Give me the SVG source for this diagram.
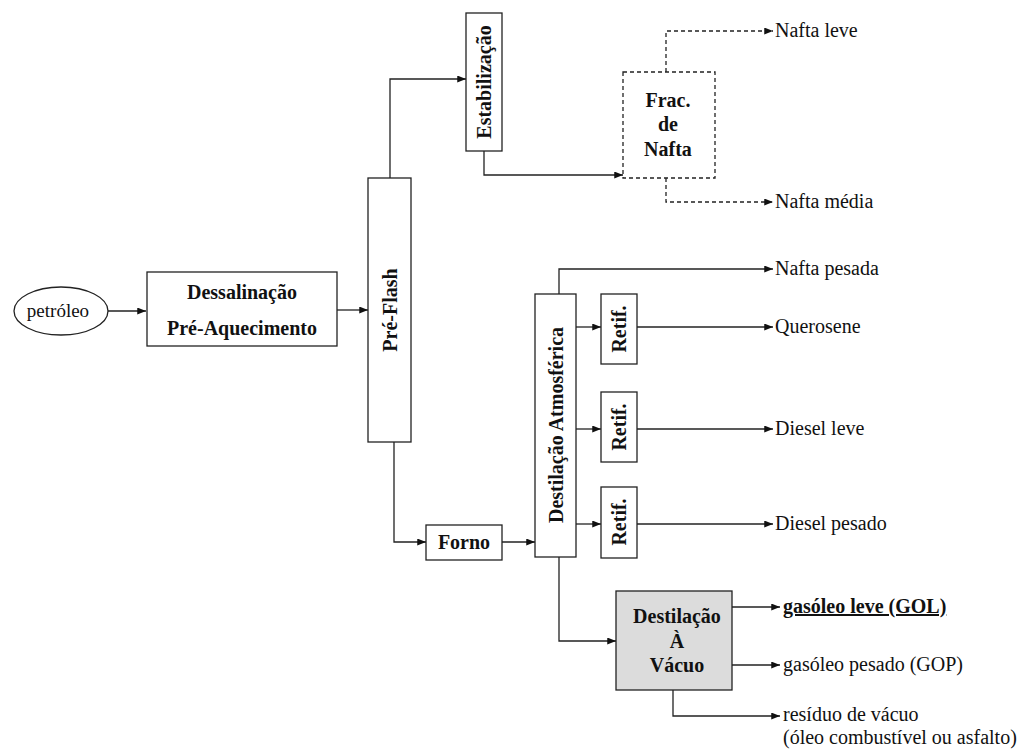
<svg xmlns="http://www.w3.org/2000/svg" width="1021" height="749" viewBox="0 0 1021 749" font-family="'Liberation Serif', 'DejaVu Serif', serif">
<style>
text{font-family:'Liberation Serif','DejaVu Serif',serif;font-size:20px;fill:#111}
.b{font-weight:bold;font-size:20px}
.box{fill:#fff;stroke:#222;stroke-width:1.3}
.dbox{fill:#fff;stroke:#222;stroke-width:1.3;stroke-dasharray:4 3}
.c{fill:none;stroke:#222;stroke-width:1.3;marker-end:url(#ah)}
.d{fill:none;stroke:#222;stroke-width:1.3;stroke-dasharray:4 3;marker-end:url(#ah)}
</style>
<defs>
<marker id="ah" viewBox="0 0 10 8" refX="10" refY="4" markerWidth="9" markerHeight="7" markerUnits="userSpaceOnUse" orient="auto">
<path d="M0,0 L10,4 L0,8 z" fill="#111"/>
</marker>
</defs>
<rect width="1021" height="749" fill="#fff"/>
<g id="connectors">
<path class="c" d="M108,311 H146"/>
<path class="c" d="M337,310 H368"/>
<path class="c" d="M390,178 V79 H466"/>
<path class="c" d="M484,151 V175 H623"/>
<path class="d" d="M666,72 V31 H773"/>
<path class="d" d="M666,178 V202 H773"/>
<path class="c" d="M394,442 V542 H426"/>
<path class="c" d="M502,542 H535"/>
<path class="c" d="M559,294 V269 H773"/>
<path class="c" d="M576,327 H601"/>
<path class="c" d="M576,429 H601"/>
<path class="c" d="M576,524 H601"/>
<path class="c" d="M637,327 H773"/>
<path class="c" d="M637,429 H773"/>
<path class="c" d="M637,524 H773"/>
<path class="c" d="M559,557 V641 H616"/>
<path class="c" d="M732,607 H780"/>
<path class="c" d="M732,665 H780"/>
<path class="c" d="M673,690 V716 H780"/>
</g>
<g id="petroleo">
<ellipse cx="61" cy="311" rx="47" ry="24" class="box"/>
<text x="58" y="317" text-anchor="middle" style="font-size:19px">petróleo</text>
</g>
<g id="dessalinacao">
<rect x="147" y="272" width="190" height="74" class="box"/>
<text class="b" x="242" y="299" text-anchor="middle">Dessalinação</text>
<text class="b" x="242" y="335" text-anchor="middle">Pré-Aquecimento</text>
</g>
<g id="preflash">
<rect x="368" y="178" width="43" height="264" class="box"/>
<text class="b" transform="translate(390,310) rotate(-90)" y="7" text-anchor="middle">Pré-Flash</text>
</g>
<g id="estabilizacao">
<rect x="466" y="13" width="36" height="138" class="box"/>
<text class="b" transform="translate(484,82) rotate(-90)" y="7" text-anchor="middle">Estabilização</text>
</g>
<g id="fracnafta">
<rect x="623" y="72" width="92" height="106" class="dbox"/>
<text class="b" x="668" y="107" text-anchor="middle">Frac.</text>
<text class="b" x="668" y="131" text-anchor="middle">de</text>
<text class="b" x="668" y="156" text-anchor="middle">Nafta</text>
</g>
<g id="forno">
<rect x="426" y="525" width="76" height="35" class="box"/>
<text class="b" x="464" y="549" text-anchor="middle">Forno</text>
</g>
<g id="destatm">
<rect x="535" y="294" width="41" height="263" class="box"/>
<text class="b" transform="translate(556,425) rotate(-90)" y="7" text-anchor="middle">Destilação  Atmosférica</text>
</g>
<g id="retif1">
<rect x="601" y="294" width="36" height="70" class="box"/>
<text class="b" transform="translate(619,329) rotate(-90)" y="7" text-anchor="middle">Retif.</text>
</g>
<g id="retif2">
<rect x="601" y="392" width="36" height="70" class="box"/>
<text class="b" transform="translate(619,427) rotate(-90)" y="7" text-anchor="middle">Retif.</text>
</g>
<g id="retif3">
<rect x="601" y="487" width="36" height="71" class="box"/>
<text class="b" transform="translate(619,522) rotate(-90)" y="7" text-anchor="middle">Retif.</text>
</g>
<g id="vacuo">
<rect x="616" y="591" width="116" height="99" fill="#dcdcdc" stroke="#222" stroke-width="1.3"/>
<text class="b" x="677" y="623" text-anchor="middle">Destilação</text>
<text class="b" x="677" y="648" text-anchor="middle">À</text>
<text class="b" x="677" y="672" text-anchor="middle">Vácuo</text>
</g>
<g id="outputs">
<text x="775" y="37">Nafta leve</text>
<text x="775" y="208">Nafta média</text>
<text x="775" y="275">Nafta pesada</text>
<text x="775" y="333">Querosene</text>
<text x="775" y="435">Diesel leve</text>
<text x="775" y="530">Diesel pesado</text>
<text class="b" x="783" y="613" text-decoration="underline">gasóleo leve (GOL)</text>
<text x="783" y="671">gasóleo pesado (GOP)</text>
<text x="783" y="721">resíduo de vácuo</text>
<text x="783" y="744">(óleo combustível ou asfalto)</text>
</g>
</svg>
